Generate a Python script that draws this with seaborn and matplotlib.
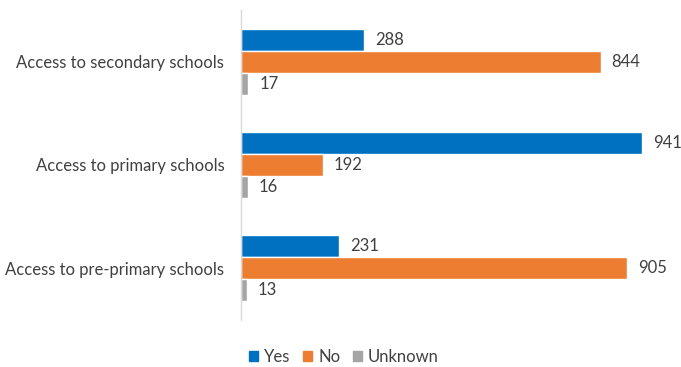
import pandas as pd
import matplotlib.pyplot as plt
import seaborn as sns

# Dữ liệu
categories = ["Access to secondary schools", "Access to primary schools", "Access to pre-primary schools"]
answers = ["Yes", "No", "Unknown"]
yes_vals = [288, 941, 231]
no_vals = [844, 192, 905]
unknown_vals = [17, 16, 13]
colors = ["#0070C0", "#ED7D31", "#A5A5A5"]

rows = []
for i, cat in enumerate(categories):
    rows.append({"category": cat, "answer": "Yes", "count": yes_vals[i]})
    rows.append({"category": cat, "answer": "No", "count": no_vals[i]})
    rows.append({"category": cat, "answer": "Unknown", "count": unknown_vals[i]})
df = pd.DataFrame(rows)

sns.set_style("white")
plt.rcParams['font.family'] = ['Lato', 'DejaVu Sans']

fig = plt.figure(figsize=(6.81, 3.67), dpi=100)
ax = fig.add_axes([241 / 681, 1 - 320 / 367, 426 / 681, 310 / 367])

sns.barplot(data=df, y="category", x="count", hue="answer", order=categories,
            hue_order=answers, palette=colors, orient="h", width=0.64,
            saturation=1, gap=0, ax=ax, legend=False)

for cont in ax.containers:
    ax.bar_label(cont, padding=8, fontsize=12, color="#404040")

ax.set_xlim(0, 1000)
ax.set_ylim(2.5, -0.5)
ax.set_xlabel("")
ax.set_ylabel("")
ax.set_xticks([])
ax.tick_params(axis="y", length=0, pad=12, labelsize=12, labelcolor="#404040")
for s in ["top", "right", "bottom"]:
    ax.spines[s].set_visible(False)
ax.spines["left"].set_color("#D9D9D9")
ax.spines["left"].set_linewidth(1)

handles = [plt.Rectangle((0, 0), 1, 1, color=c) for c in colors]
fig.legend(handles, answers, loc="lower center", bbox_to_anchor=(0.505, -0.035), ncol=3,
           frameon=False, handlelength=0.55, handleheight=0.55, handletextpad=0.35,
           columnspacing=0.75, fontsize=12, labelcolor="#404040")

fig.savefig("out.png", dpi=100)
